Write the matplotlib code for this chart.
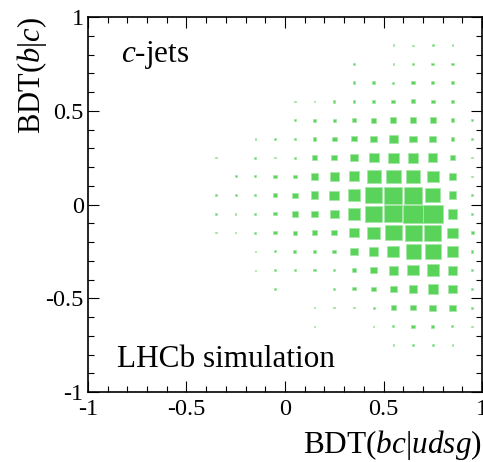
import matplotlib.pyplot as plt
import numpy as np

plt.rcParams['font.family'] = 'Liberation Serif'
plt.rcParams['mathtext.fontset'] = 'custom'
plt.rcParams['mathtext.rm'] = 'Liberation Serif'
plt.rcParams['mathtext.it'] = 'Liberation Serif:italic'
plt.rcParams['axes.unicode_minus'] = False

# bin centres (x: BDT(bc|udsg), y: BDT(b|c)), bin width 0.1
x_centers = [-0.35, -0.25, -0.15, -0.05, 0.05, 0.15, 0.25, 0.35, 0.45, 0.55, 0.65, 0.75, 0.85, 0.95]
y_centers = [0.85, 0.75, 0.65, 0.55, 0.45, 0.35, 0.25, 0.15, 0.05,
             -0.05, -0.15, -0.25, -0.35, -0.45, -0.55, -0.65, -0.75]

# bin contents (arbitrary units), one row per y bin
counts = [
    [0, 0, 0, 0, 0, 0, 0, 0, 0, 5, 4, 5, 5, 0],
    [0, 0, 0, 0, 0, 0, 0, 5, 0, 5, 8, 8, 8, 0],
    [0, 0, 0, 0, 0, 0, 0, 8, 8, 6, 10, 8, 8, 0],
    [0, 0, 0, 0, 5, 5, 7, 8, 10, 12, 13, 11, 8, 0],
    [0, 0, 0, 0, 7, 9, 10, 12, 16, 18, 20, 18, 12, 5],
    [0, 0, 5, 5, 8, 10, 14, 16, 20, 26, 22, 20, 10, 5],
    [5, 0, 6, 5, 7, 14, 18, 22, 30, 32, 32, 28, 14, 5],
    [0, 6, 6, 10, 12, 20, 28, 32, 42, 44, 44, 36, 20, 5],
    [5, 7, 6, 14, 17, 24, 29, 38, 50, 54, 55, 46, 24, 5],
    [4, 4, 6, 10, 18, 20, 28, 36, 50, 54, 60, 60, 30, 5],
    [4, 4, 6, 10, 12, 16, 18, 28, 38, 50, 52, 52, 32, 10],
    [0, 0, 5, 6, 10, 10, 12, 24, 28, 36, 46, 48, 34, 8],
    [0, 0, 4, 5, 8, 8, 6, 14, 20, 28, 34, 38, 28, 8],
    [0, 0, 0, 4, 0, 0, 5, 10, 14, 20, 26, 32, 26, 6],
    [0, 0, 0, 0, 0, 5, 5, 5, 6, 14, 16, 20, 20, 6],
    [0, 0, 0, 0, 0, 5, 0, 0, 5, 6, 10, 10, 6, 5],
    [0, 0, 0, 0, 0, 0, 0, 0, 0, 5, 6, 5, 5, 0],
]

bin_w = 0.1
green = '#5ad35a'

fig = plt.figure(figsize=(4.83, 4.62), dpi=100)
ax = fig.add_axes([0.182, 0.1515, 0.816, 0.8115])

X, Y = np.meshgrid(x_centers, y_centers)
Z = np.array(counts, dtype=float)
mask = Z > 0
# box side proportional to bin content (ROOT "box" style)
side = bin_w * Z[mask] / Z.max()
ax.bar(X[mask], side, width=side, bottom=Y[mask] - side / 2,
       color=green, edgecolor='#a6e6a6', linewidth=0.6)

ax.set_xlim(-1, 1)
ax.set_ylim(-1, 1)
ticks = [-1, -0.5, 0, 0.5, 1]
ticklabels = ['-1', '-0.5', '0', '0.5', '1']
ax.set_xticks(ticks)
ax.set_xticklabels(ticklabels)
ax.set_yticks(ticks)
ax.set_yticklabels(ticklabels)
ax.set_xticks(np.arange(-1, 1.01, 0.1), minor=True)
ax.set_yticks(np.arange(-1, 1.01, 0.1), minor=True)
ax.tick_params(which='both', direction='in', top=True, right=True, width=0.8)
ax.tick_params(which='major', length=8, labelsize=17.5)
ax.tick_params(which='minor', length=4.3)
ax.tick_params(axis='x', pad=5)
ax.tick_params(axis='y', pad=3)
for s in ax.spines.values():
    s.set_linewidth(1.2)

ax.set_xlabel(r'BDT($bc$|$udsg$)', fontsize=22.5, loc='right', va='center')
ax.xaxis.set_label_coords(1.0, -0.141)
ax.set_ylabel(r'BDT($b$|$c$)', fontsize=22, loc='top', va='center')
ax.yaxis.set_label_coords(-0.142, 1.0)

ax.text(-0.83, 0.76, r'$c$-jets', fontsize=22.5, ha='left', va='baseline')
ax.text(-0.853, -0.867, 'LHCb simulation', fontsize=22.5, ha='left', va='baseline')

fig.savefig('out.png', dpi=100)
